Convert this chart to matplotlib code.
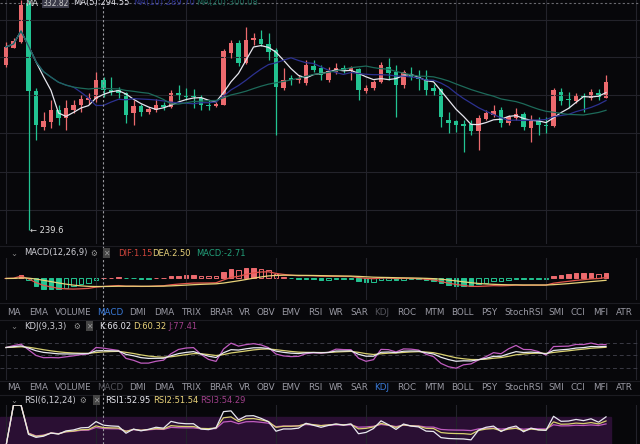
import numpy as np
import pandas as pd
import matplotlib
matplotlib.use("Agg")
import matplotlib.pyplot as plt
from matplotlib.lines import Line2D

opens = [305.6,312.4,314.8,330.4,295.2,280.8,282.8,287.6,284.4,287.6,289.6,291.6,292.0,299.6,295.6,295.6,294.4,286.4,289.2,286.8,
         287.6,289.6,288.8,294.4,293.2,293.2,292.4,289.6,289.2,289.6,310.4,314.4,306.4,315.6,316.0,314.0,311.6,296.4,300.4,299.6,
         298.4,305.2,304.4,299.6,302.8,304.4,303.2,304.0,295.2,296.4,298.8,304.8,302.8,297.6,302.0,300.8,300.0,296.4,296.0,283.6,
         283.2,282.0,282.0,279.2,284.0,285.6,287.6,282.4,284.4,286.0,280.4,283.2,281.6,281.2,294.8,292.0,291.2,293.6,292.4,294.4,292.4]
closes = [312.8,315.2,329.6,295.2,281.6,283.2,287.6,284.4,288.4,289.6,292.0,292.4,299.6,295.6,294.8,294.4,285.6,289.2,286.8,288.0,
          289.6,288.8,294.4,293.2,292.8,292.8,289.6,289.2,290.0,311.2,314.4,306.4,315.6,316.4,314.0,310.8,296.8,299.6,299.6,300.4,
          305.6,303.6,301.6,303.2,304.4,303.6,304.4,295.6,296.4,298.8,305.6,302.4,297.6,302.8,300.8,300.0,295.6,295.2,284.8,282.4,
          281.6,281.2,279.2,284.4,286.4,287.2,282.4,284.8,286.0,280.8,283.2,281.6,281.2,295.6,291.2,291.6,293.6,292.8,294.8,292.8,298.8]
highs = [314.8,316.4,331.6,331.6,296.4,286.8,291.6,289.6,291.6,291.6,293.6,294.4,302.8,300.8,300.8,296.8,294.8,291.6,290.0,288.8,
         292.0,290.8,295.6,297.6,296.4,296.0,293.6,291.6,290.8,312.0,315.6,315.6,320.8,318.4,319.6,318.4,312.4,304.4,301.6,301.6,
         307.6,307.6,305.6,304.8,306.4,305.6,305.2,304.4,297.6,299.6,306.8,308.4,305.6,303.6,304.8,303.6,303.6,298.0,296.4,286.8,
         283.6,283.6,283.6,285.6,287.6,289.6,288.8,285.6,288.4,286.8,285.6,284.8,284.8,296.4,296.4,294.8,294.4,294.4,296.0,296.0,301.6]
lows = [304.8,312.4,314.4,239.6,275.6,279.6,280.4,281.6,279.6,286.4,286.8,290.0,290.8,292.8,293.6,292.4,282.4,281.6,285.2,286.0,
        286.8,287.6,288.4,291.6,291.6,288.4,287.6,287.6,288.8,289.6,308.4,305.2,306.0,313.6,313.2,307.6,277.6,295.6,297.6,298.4,
        297.6,302.8,299.6,298.8,302.0,302.4,299.6,291.6,294.4,295.6,298.4,299.6,284.8,296.4,299.6,295.6,293.6,293.6,280.8,278.4,
        278.8,270.8,277.6,271.6,283.6,284.8,280.8,281.6,283.6,279.6,274.8,277.6,278.4,280.8,289.6,288.4,290.4,286.8,291.6,291.6,292.4]

tabs = ["MA","EMA","VOLUME","MACD","DMI","DMA","TRIX","BRAR","VR","OBV","EMV","RSI","WR","SAR","KDJ","ROC","MTM","BOLL","PSY","StochRSI","SMI","CCI","MFI","ATR"]
tab_x = [14,39,73,110,138,164,191,221,245,266,291,315,336,359,382,407,434,462,489,524,556,578,601,624]

BG = "#07070a"; RED = "#ec6a6e"; TEAL = "#22c492"; GRID = "#23232b"
W, H = 640, 444
fig = plt.figure(figsize=(6.4, 4.44), dpi=100, facecolor=BG)
plt.rcParams['font.family'] = ['DejaVu Sans']

def mkax(top, bottom):
    ax = fig.add_axes([0, 1 - bottom / H, 1, (bottom - top) / H])
    ax.set_facecolor(BG)
    for s in ax.spines.values():
        s.set_visible(False)
    ax.set_xlim(-0.8, 84.53)
    ax.set_xticks(np.arange(0, 85, 12))
    ax.tick_params(length=0, labelbottom=False, labelleft=False)
    ax.grid(True, axis='x', color=GRID, lw=0.8)
    return ax

n = len(closes)
x = np.arange(n)
o, c, h, l = map(np.array, (opens, closes, highs, lows))
up = c >= o
cols = np.where(up, RED, TEAL)

# main
ax = mkax(0, 244)
ax.set_ylim(234.0, 331.6)
ax.set_yticks([323.6, 308.8, 293.6, 278.4, 262.8, 247.6])
ax.grid(True, axis='y', color=GRID, lw=0.8)
ax.vlines(x, l, h, colors=cols, lw=0.9)
ax.bar(x, np.maximum(np.abs(c - o), 0.3), bottom=np.minimum(o, c), width=0.62, color=cols)
cs = pd.Series(c)
ax.plot(x, cs.rolling(5, min_periods=1).mean(), color="#e6e6ee", lw=0.9)
ax.plot(x, cs.rolling(10, min_periods=1).mean(), color="#2c3190", lw=0.9)
ax.plot(x, cs.rolling(20, min_periods=1).mean(), color="#1d6a5a", lw=0.9)
ax.annotate("← 239.6", (3.2, 239.6), color="#dddddd", fontsize=6, va='center')

# MACD
ema12 = cs.ewm(span=12, adjust=False).mean(); ema26 = cs.ewm(span=26, adjust=False).mean()
dif = ema12 - ema26; dea = dif.ewm(span=9, adjust=False).mean(); hist = 2 * (dif - dea)
a2 = mkax(258, 300)
hv = hist.values
prev = np.concatenate([[0], hv[:-1]])
for i, v in enumerate(hv):
    colr = RED if v >= 0 else TEAL
    hollow = abs(v) < abs(prev[i])
    a2.bar(i, v, width=0.6, facecolor='none' if hollow else colr, edgecolor=colr, lw=0.7)
a2.plot(x, dif, color="#e0554c", lw=0.9)
a2.plot(x, dea, color="#e8d27a", lw=0.9)
m = max(abs(hv).max(), abs(dif).max())
a2.set_ylim(-m * 2.0, m * 1.9)

# KDJ
low9 = pd.Series(l).rolling(9, min_periods=1).min(); high9 = pd.Series(h).rolling(9, min_periods=1).max()
rsv = (cs - low9) / (high9 - low9) * 100
K = rsv.ewm(alpha=1/3, adjust=False).mean(); D = K.ewm(alpha=1/3, adjust=False).mean(); J = 3 * K - 2 * D
a3 = mkax(330, 380)
a3.set_ylim(-50, 150)
for lv in (0, 50, 100):
    a3.axhline(lv, color="#3a3a44", lw=0.7, ls=(0, (4, 3)))
a3.plot(x, J, color="#c05cc0", lw=0.9)
a3.plot(x, D, color="#d8d070", lw=0.9)
a3.plot(x, K, color="#e8e8f0", lw=0.9)

# RSI
def rsi(p):
    d = cs.diff().fillna(0)
    g = d.clip(lower=0).ewm(alpha=1/p, adjust=False).mean()
    ls_ = (-d.clip(upper=0)).ewm(alpha=1/p, adjust=False).mean()
    return 100 * g / (g + ls_ + 1e-9)
a4 = mkax(405, 444)
a4.set_ylim(5, 100)
a4.axhspan(0, 70, xmin=0, xmax=0.955, color="#2a0f33")
a4.plot(x, rsi(24), color="#c05cc0", lw=0.9)
a4.plot(x, rsi(12), color="#d8d070", lw=0.9)
a4.plot(x, rsi(6), color="#e8e8f0", lw=0.9)

def ft(px, py, s, col, fs=6.0, **kw):
    fig.text(px / W, 1 - py / H, s, color=col, fontsize=fs, va='center', **kw)

for yy in (246, 303, 320, 381, 395):
    fig.add_artist(Line2D([0, 1], [1 - yy / H] * 2, color="#1c1c22", lw=0.8))
fig.add_artist(Line2D([103 / W] * 2, [0, 1], color="#9a9aa0", lw=0.8, ls=(0, (2, 2))))
fig.add_artist(Line2D([0, 1], [1 - 3 / H] * 2, color="#6a6a70", lw=0.8, ls=(0, (2, 2))))

ft(25, 3, "MA", "#dddddd"); ft(42, 3, "332.82", "#cccccc", fs=5.5, bbox=dict(fc="#3a3a48", ec='none', pad=0.3))
ft(73, 3, "MA(5):294.55", "#e6e6ee"); ft(133, 3, "MA(10):289.70", "#2c3190"); ft(196, 3, "MA(20):300.08", "#1d6a5a")

ft(10, 253, "⌄", "#888888"); ft(24, 253, "MACD(12,26,9)", "#cfcfd6")
ft(90, 253, "⚙", "#999999", fs=5.5); ft(103, 253, "✕", "#999999", fs=5.5, bbox=dict(fc="#444", ec='none', pad=0.3))
ft(118, 253, "DIF:1.15", "#d0463c"); ft(152, 253, "DEA:2.50", "#e8d27a"); ft(196, 253, "MACD:-2.71", "#22a07a")

ft(10, 326, "⌄", "#888888"); ft(24, 326, "KDJ(9,3,3)", "#cfcfd6")
ft(73, 326, "⚙", "#999999", fs=5.5); ft(86, 326, "✕", "#999999", fs=5.5, bbox=dict(fc="#444", ec='none', pad=0.3))
ft(99, 326, "K:66.02", "#e8e8f0"); ft(133, 326, "D:60.32", "#e8d27a"); ft(168, 326, "J:77.41", "#a0408a")

ft(10, 400, "⌄", "#888888"); ft(24, 400, "RSI(6,12,24)", "#cfcfd6")
ft(79, 400, "⚙", "#999999", fs=5.5); ft(93, 400, "✕", "#999999", fs=5.5, bbox=dict(fc="#444", ec='none', pad=0.3))
ft(105, 400, "RSI1:52.95", "#e8e8f0"); ft(153, 400, "RSI2:51.54", "#e8d27a"); ft(200, 400, "RSI3:54.29", "#a0408a")

for row_y, hl in ((312, "MACD"), (387, "KDJ")):
    for t, tx in zip(tabs, tab_x):
        col = "#9a9aa4"
        if t == hl:
            col = "#3a7ad8"
        elif (row_y == 312 and t == "KDJ") or (row_y == 387 and t == "MACD"):
            col = "#55555c"
        ft(tx, row_y, t, col, fs=6.3, ha='center')

fig.savefig("out.png", dpi=100, facecolor=BG)
